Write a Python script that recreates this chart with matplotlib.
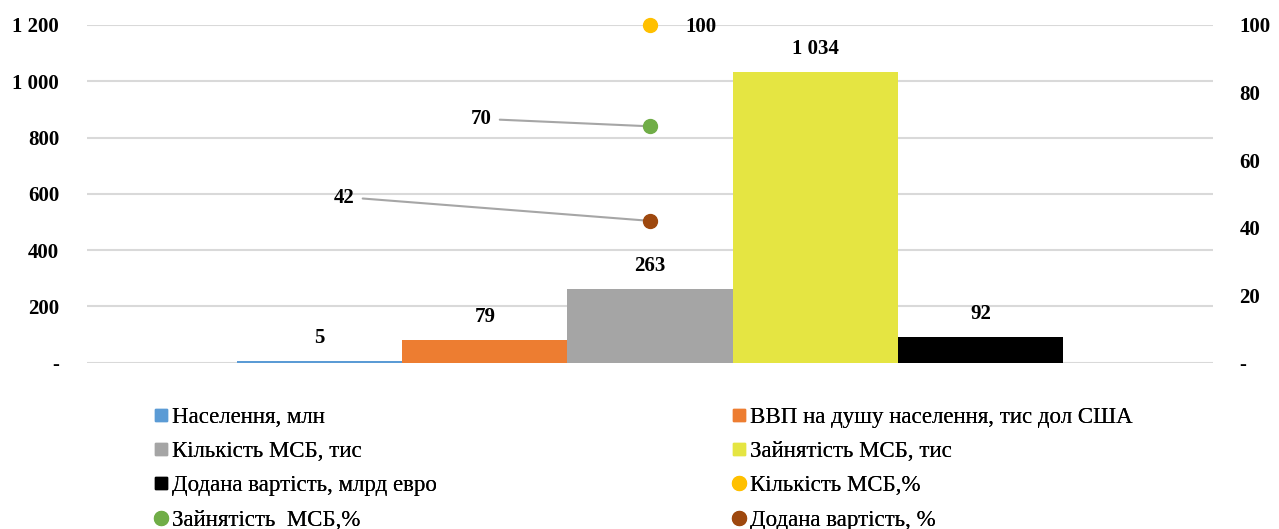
import numpy as np
import matplotlib.pyplot as plt
from matplotlib.lines import Line2D
from matplotlib.ticker import FuncFormatter

plt.rcParams['font.family'] = ['Liberation Serif', 'DejaVu Serif']

# bar series (left axis)
bar_labels = ['Населення, млн', 'ВВП на душу населення, тис дол США',
              'Кількість МСБ, тис', 'Зайнятість МСБ, тис',
              'Додана вартість, млрд евро']
bar_values = [5, 79, 263, 1034, 92]
bar_colors = ['#5b9bd5', '#ed7d31', '#a5a5a5', '#e5e542', '#000000']

# point series (right axis, %)
pt_labels = ['Кількість МСБ,%', 'Зайнятість  МСБ,%', 'Додана вартість, %']
pt_values = [100, 70, 42]
pt_colors = ['#ffc000', '#70ad47', '#9e480e']
pt_offsets = [(51, -2), (-169, 7), (-306, 23)]  # label offset, pixels


def fmt_thousands(v, pos):
    if v == 0:
        return '-'
    return f'{int(v):,}'.replace(',', ' ')


fig = plt.figure(figsize=(12.79, 5.29), dpi=100)
ax = fig.add_axes([87 / 1279, 1 - 362.7 / 529, (1213 - 87) / 1279, (362.7 - 25) / 529])
ax2 = ax.twinx()

n = len(bar_values)
w = 0.1467
xs = (np.arange(n) - (n - 1) / 2) * w
ax.bar(xs, bar_values, width=w, color=bar_colors, zorder=2)
for x, v in zip(xs, bar_values):
    ax.annotate(fmt_thousands(v, None), (x, v), xytext=(0, 23), textcoords='offset pixels',
                ha='center', va='center', fontsize=15, fontweight='bold')

ax.set_xlim(-0.5, 0.5)
ax.set_ylim(0, 1200)
ax.set_yticks(np.arange(0, 1201, 200))
ax.yaxis.set_major_formatter(FuncFormatter(fmt_thousands))
ax.set_xticks([])
ax.grid(axis='y', color='#d9d9d9', linewidth=1.5, zorder=0)
ax.set_axisbelow(True)

ax2.set_ylim(0, 100)
ax2.set_yticks(np.arange(0, 101, 20))
ax2.yaxis.set_major_formatter(FuncFormatter(lambda v, p: '-' if v == 0 else f'{int(v)}'))

for a in (ax, ax2):
    for s in a.spines.values():
        s.set_visible(False)
    a.tick_params(length=0, labelsize=15)
    for lab in a.get_yticklabels():
        lab.set_fontweight('bold')
ax.tick_params(axis='y', pad=20)
ax2.tick_params(axis='y', pad=19)

for v, c, off in zip(pt_values, pt_colors, pt_offsets):
    ax2.plot([0], [v], 'o', color=c, markersize=10, zorder=5, clip_on=False)
    arrow = None
    if off[0] < 0:
        arrow = dict(arrowstyle='-', color='#a6a6a6', lw=1.5, relpos=(1, 0.5),
                     shrinkA=4, shrinkB=0)
    ax2.annotate(f'{v}', (0, v), xytext=off, textcoords='offset pixels',
                 ha='center', va='center', fontsize=15, fontweight='bold',
                 arrowprops=arrow, annotation_clip=False)

# legend: two columns, row-major order
handles = [Line2D([], [], marker='s', linestyle='none', color=c, markersize=8.5) for c in bar_colors]
handles += [Line2D([], [], marker='o', linestyle='none', color=c, markersize=10) for c in pt_colors]
labels = bar_labels + pt_labels
left_idx = [0, 2, 4, 6]
right_idx = [1, 3, 5, 7]
for idx, x0 in ((left_idx, 155 / 1279), (right_idx, 733 / 1279)):
    leg = fig.legend([handles[i] for i in idx], [labels[i] for i in idx],
                     loc='upper left', bbox_to_anchor=(x0, 1 - 406.5 / 529),
                     frameon=False, fontsize=16.5, handlelength=0.5, handletextpad=0.25,
                     labelspacing=0.585, borderpad=0, borderaxespad=0)
    fig.add_artist(leg)

fig.savefig('out.png', dpi=100)
